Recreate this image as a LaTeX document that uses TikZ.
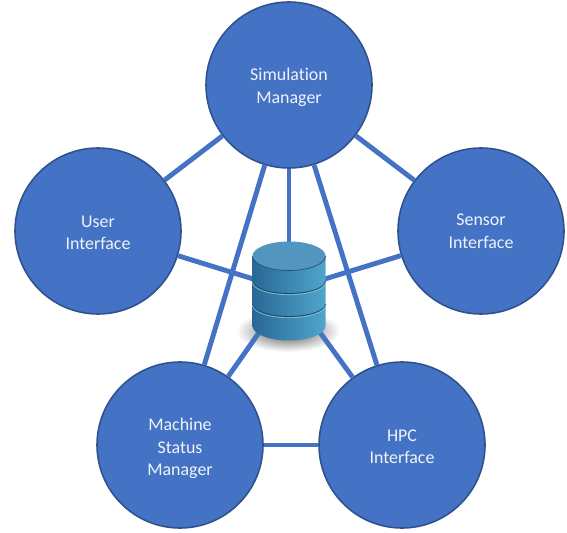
\documentclass[tikz,border=0pt]{standalone}
\usepackage{fontspec}
\setmainfont{Carlito}[Ligatures=NoCommon]
\usepackage{xcolor}
\definecolor{circblue}{HTML}{4472C4}
\definecolor{circedge}{HTML}{2F528F}
\definecolor{dbtop}{HTML}{5295BE}
\definecolor{dbleft}{HTML}{296796}
\definecolor{dbright}{HTML}{50A6CC}
\newcommand{\lowered}[1]{\rule{0pt}{#1}}

\begin{document}
\begin{tikzpicture}[x=0.02cm,y=-0.02cm,
  station/.style={circle,draw=circedge,line width=0.9pt,fill=circblue,minimum size=166*0.02cm,
    inner sep=0pt,align=center,text=white!92!circblue,font=\fontsize{10.2}{13}\selectfont},
  link/.style={circblue,line width=2.8pt}]
  \pgfmathsetmacro{\rx}{36.5}
  \pgfmathsetmacro{\ry}{14.5}
  \useasboundingbox (0,0) rectangle (567,533);

  \shade[inner color=black!70,outer color=white] (288,331) ellipse [x radius=52,y radius=21];

  \node[station] (sim) at (289,85) {\lowered{9.8pt}Simulation\\Manager};
  \node[station] (user) at (98,231) {\lowered{8.6pt}User\\Interface};
  \node[station] (sensor) at (481,231) {Sensor\\Interface};
  \node[station] (machine) at (180,445) {\lowered{11pt}Machine\\Status\\Manager};
  \node[station] (hpc) at (402,445) {\lowered{8.6pt}HPC\\Interface};
  \coordinate (db) at (289,290);

  \foreach \from/\to in {sim/user,sim/sensor,sim/machine,sim/hpc,sim/db,
      user/db,sensor/db,machine/db,hpc/db,machine/hpc}{
    \draw[link] (\from) -- (\to);
  }

  \shade[left color=dbleft,right color=dbright] (289-\rx,256) -- (289-\rx,326)
    arc[start angle=180,end angle=0,x radius=\rx,y radius=\ry] -- (289+\rx,256) -- cycle;
  \foreach \y in {281,304}{
   \draw[dbleft!70!black,line width=0.5pt] (289-\rx,\y) arc[start angle=180,end angle=0,x radius=\rx,y radius=\ry-2];
   \draw[dbright!70!white,line width=0.4pt] (289-\rx,\y+1.2) arc[start angle=180,end angle=0,x radius=\rx,y radius=\ry-2];
  }
  \fill[dbtop] (289,256) ellipse [x radius=\rx,y radius=\ry];
  \draw[dbleft!80!black,line width=0.4pt] (289-\rx,256) arc[start angle=180,end angle=0,x radius=\rx,y radius=\ry];
\end{tikzpicture}
\end{document}
